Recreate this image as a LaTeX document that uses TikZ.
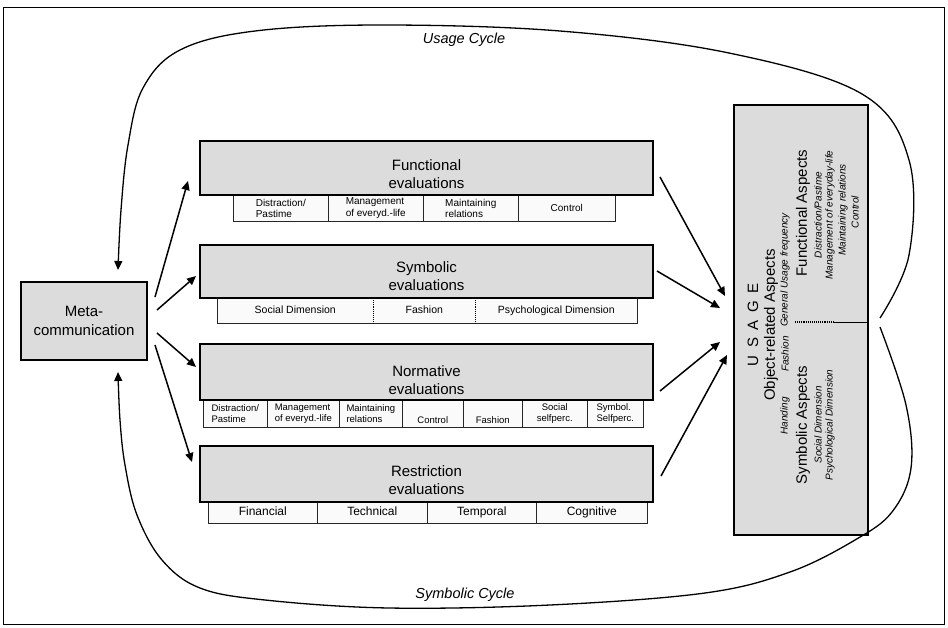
\documentclass[tikz,border=0pt]{standalone}
\usepackage{fontspec}
\setmainfont{Liberation Sans}
\usetikzlibrary{arrows.meta,calc}
\definecolor{boxgray}{RGB}{220,220,220}
\definecolor{cellfill}{RGB}{250,250,250}
\begin{document}
\begin{tikzpicture}[x=1pt,y=-1pt,
  evalbox/.style={draw=black, line width=1.4pt, fill=boxgray, minimum width=453pt, inner sep=0pt},
  evaltext/.style={align=center, font=\fontsize{15}{18.5}\selectfont, inner sep=0pt},
  cell/.style={draw=black!85, line width=0.6pt, fill=cellfill, inner sep=0pt, anchor=north west, align=left},
  cellnd/.style={cell, draw=none},
  arr/.style={line width=1.5pt, -{Triangle[length=9pt,width=8pt]}},
  cyc/.style={line width=1.3pt},
  rsmall/.style={rotate=90, inner sep=0pt, font=\fontsize{10}{12}\selectfont\itshape},
  rbig/.style={rotate=90, inner sep=0pt, font=\fontsize{15}{18}\selectfont}]

\useasboundingbox (0,0) rectangle (948,627);
\draw[line width=0.8pt] (3.5,7.5) rectangle (944.5,624);

% ---------- Functional ----------
\begin{scope}[every node/.append style={font=\fontsize{10}{11.5}\selectfont}]
\node[cell, minimum width=95pt, minimum height=26pt] (f1) at (233,195) {Distraction/\\Pastime};
\node[cell, minimum width=95pt, minimum height=26pt] (f2) at (328,195) {Management\\of everyd.-life};
\node[cell, minimum width=95pt, minimum height=26pt] (f3) at (423,195) {Maintaining\\relations};
\node[cell, minimum width=97pt, minimum height=26pt] (f4) at (518,195) {Control};
\end{scope}
\node[evalbox, minimum height=54pt] (fbox) at (426.5,168) {};
\node[evaltext] (ftxt) at (426.5,174) {Functional\\evaluations};

% ---------- Symbolic ----------
\begin{scope}[every node/.append style={font=\fontsize{10.5}{12}\selectfont, text height=7.5pt, text depth=2.2pt}]
\node[cellnd, fill=cellfill, minimum width=156pt, minimum height=25pt] (s1) at (217,298) {Social Dimension};
\node[cellnd, fill=cellfill, minimum width=102pt, minimum height=25pt] (s2) at (373,298) {Fashion};
\node[cellnd, fill=cellfill, minimum width=162pt, minimum height=25pt] (s3) at (475,298) {Psychological Dimension};
\end{scope}
\draw[black!85, line width=0.6pt] (s1.north west) rectangle (s3.south east);
\draw[densely dotted, line width=1.1pt] (s1.north east) -- (s1.south east);
\draw[densely dotted, line width=1.1pt] (s2.north east) -- (s2.south east);
\node[evalbox, minimum height=53pt] (sbox) at (426.5,271.5) {};
\node[evaltext] (stxt) at (426.5,276) {Symbolic\\evaluations};

% ---------- Normative ----------
\begin{scope}[every node/.append style={font=\fontsize{9.5}{11}\selectfont}]
\node[cell, minimum width=64pt, minimum height=27pt] (n1) at (203,400) {Distraction/\\Pastime};
\node[cell, minimum width=72pt, minimum height=27pt] (n2) at (267,400) {Management\\of everyd.-life};
\node[cell, minimum width=63pt, minimum height=27pt] (n3) at (339,400) {Maintaining\\relations};
\node[cell, minimum width=61pt, minimum height=27pt] (n4) at (402,400) {\strut\\Control};
\node[cell, minimum width=59pt, minimum height=27pt] (n5) at (463,400) {\strut\\Fashion};
\node[cell, minimum width=65pt, minimum height=27pt, align=center] (n6) at (522,400) {Social\\selfperc.};
\node[cell, minimum width=56pt, minimum height=27pt] (n7) at (587,400) {Symbol.\\Selfperc.};
\end{scope}
\node[evalbox, minimum height=56pt] (nbox) at (426.5,372) {};
\node[evaltext] (ntxt) at (426.5,380) {Normative\\evaluations};

% ---------- Restriction ----------
\begin{scope}[every node/.append style={font=\fontsize{12}{14}\selectfont, text height=8.6pt, text depth=2.5pt}]
\node[cell, minimum width=109pt, minimum height=21pt] (r1) at (208,502) {Financial};
\node[cell, minimum width=110pt, minimum height=21pt] (r2) at (317,502) {Technical};
\node[cell, minimum width=109pt, minimum height=21pt] (r3) at (427,502) {Temporal};
\node[cell, minimum width=111pt, minimum height=21pt] (r4) at (536,502) {Cognitive};
\end{scope}
\node[evalbox, minimum height=56pt] (rbox) at (426.5,474) {};
\node[evaltext] (rtxt) at (426.5,480) {Restriction\\evaluations};

% ---------- Meta-communication ----------
\node[draw, line width=1.4pt, fill=boxgray, minimum width=126pt, minimum height=78pt,
      align=center, font=\fontsize{15}{19}\selectfont, inner sep=0pt] (meta) at (84,321) {Meta-\\communication};

% ---------- USAGE ----------
\node[draw, line width=1.6pt, fill=boxgray, minimum width=134pt, minimum height=430pt, inner sep=0pt] (usage) at (801,320) {};
\draw[densely dotted, line width=1.1pt] (795,322) -- (833,322);
\draw[line width=0.8pt] (833,322) -- (867,322);

\node[rbig] (uu) at (753,325) {U\hspace{7.5pt}S\hspace{7.5pt}A\hspace{7.5pt}G\hspace{7.5pt}E};
\node[rbig] (obj) at (771,325) {Object-related Aspects};
\node[rsmall] (o1) at (785,416) {Handing};
\node[rsmall] (o2) at (785,354) {Fashion};
\node[rsmall] (o3) at (785,270) {General Usage frequency};
\node[rbig] (fa) at (803,213) {Functional Aspects};
\node[rsmall] (fa1) at (818,215) {Distraction/Pastime};
\node[rsmall] (fa2) at (830,215) {Management of everyday-life};
\node[rsmall] (fa3) at (843,210) {Maintaining relations};
\node[rsmall] (fa4) at (855,212) {Control};
\node[rbig] (sa) at (803,425) {Symbolic Aspects};
\node[rsmall] (sa1) at (818,425) {Social Dimension};
\node[rsmall] (sa2) at (830,425) {Psychological Dimension};

% ---------- arrows ----------
\coordinate (m1) at (155,297); \coordinate (t1) at (188,181);
\coordinate (m2) at (157,310); \coordinate (t2) at (196,276);
\coordinate (m3) at (157,333); \coordinate (t3) at (196,367);
\coordinate (m4) at (155,345); \coordinate (t4) at (192,462);
\draw[arr] (m1) -- (t1);
\draw[arr] (m2) -- (t2);
\draw[arr] (m3) -- (t3);
\draw[arr] (m4) -- (t4);

\coordinate (e1) at (660,177); \coordinate (u1) at (725,296);
\coordinate (e2) at (657,271); \coordinate (u2) at (720,308);
\coordinate (e3) at (660,391); \coordinate (u3) at (720,342);
\coordinate (e4) at (661,476); \coordinate (u4) at (727,355);
\draw[arr] (e1) -- (u1);
\draw[arr] (e2) -- (u2);
\draw[arr] (e3) -- (u3);
\draw[arr] (e4) -- (u4);

% ---------- cycles ----------
\draw[cyc, -{Triangle[length=9pt,width=8pt]}] plot[smooth, tension=0.6] coordinates {
  (880,318) (909,255) (909,160) (862,94) (729,53) (560,31) (382,25) (255,31)
  (180,50) (143,88) (128,145) (121,210) (118,270)};
\draw[cyc, -{Triangle[length=9pt,width=8pt]}] plot[smooth, tension=0.6] coordinates {
  (880,327) (906,405) (911,468) (892,512) (855,540) (790,572) (705,593) (550,605)
  (389,608) (265,600) (200,588) (162,560) (137,515) (125,465) (120,420) (118,372)};

\node[font=\fontsize{14.5}{16}\selectfont\itshape] (uc) at (464,40) {Usage Cycle};
\node[font=\fontsize{14.5}{16}\selectfont\itshape] (sc) at (465,595) {Symbolic Cycle};
\end{tikzpicture}
\end{document}
